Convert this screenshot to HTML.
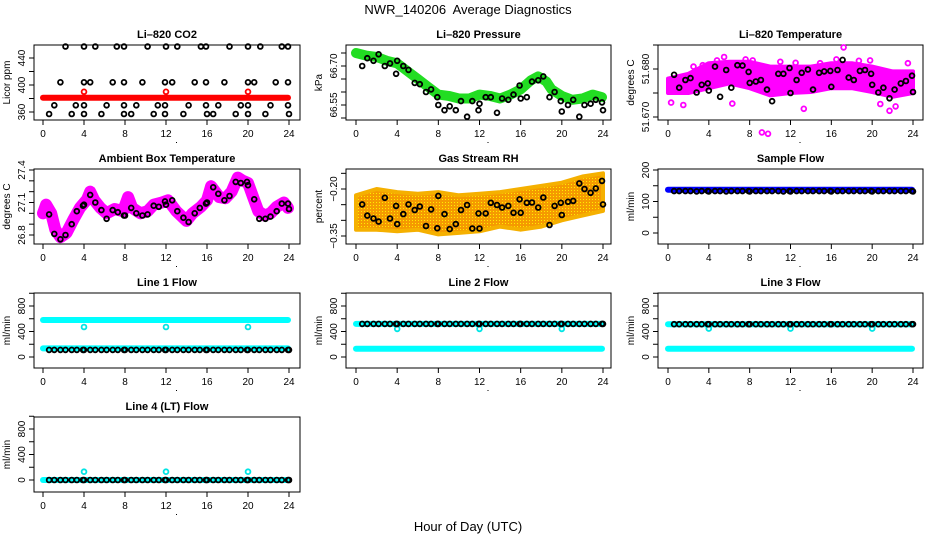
<!DOCTYPE html>
<html><head><meta charset="utf-8">
<style>
html,body{margin:0;padding:0;background:#fff;}
svg{display:block;font-family:"Liberation Sans",Arial,sans-serif;}
</style></head>
<body>
<svg id="chart" width="936" height="540" viewBox="0 0 936 540" xmlns="http://www.w3.org/2000/svg">
<defs>
<pattern id="orangeDots" width="3" height="3" patternUnits="userSpaceOnUse"><rect width="3" height="3" fill="#f59a00"/><rect x="1" y="1" width="1" height="1" fill="#ffee00"/></pattern>
</defs>
<text x="468" y="14" font-size="13" text-anchor="middle">NWR_140206&#160; Average Diagnostics</text>
<text x="468" y="531" font-size="13" text-anchor="middle">Hour of Day (UTC)</text>
</svg>
<script>
// ---------- data ----------
const hourTicks = [0,4,8,12,16,20,24];
const T = [0.6,1.1,1.7,2.2,2.8,3.3,3.9,4.0,4.6,5.1,5.7,6.2,6.8,7.3,7.9,8.0,8.6,9.1,9.7,10.2,10.8,11.3,11.9,12.0,12.6,13.1,13.7,14.2,14.8,15.3,15.9,16.0,16.6,17.1,17.7,18.2,18.8,19.3,19.9,20.0,20.6,21.1,21.7,22.2,22.8,23.3,23.9,24.0];
const co2Times = [2.2,4.0,5.1,7.2,7.9,10.2,12.0,13.1,15.4,15.9,18.2,20.0,21.2,23.3,23.9, 1.7,4.0,4.6,6.8,7.9,9.7,11.9,12.6,14.8,15.9,17.7,20.0,20.6,22.7,23.9, 1.1,3.2,4.0,6.2,7.9,9.1,11.2,11.9,14.2,15.9,17.1,19.3,20.0,22.2,23.9, 0.6,2.8,4.0,5.7,7.9,8.6,10.8,11.9,13.7,16.0,16.6,18.8,20.0,21.7,24.0];
const co2Vals = [457,457,457,457,457,457,457,457,457,457,457,457,457,457,457, 404,404,404,404,404,404,404,404,404,404,404,404,404,404,404, 370,370,370,370,370,370,370,370,370,370,370,370,370,370,370, 357,357,357,357,357,357,357,357,357,357,357,357,357,357,357];
const co2RefLevel = 381;
const calHours = [4,12,20];
const co2CalVals = [390,390,390];
const pressVals = [66.70,66.73,66.72,66.745,66.70,66.71,66.67,66.72,66.70,66.685,66.635,66.63,66.60,66.61,66.58,66.55,66.53,66.545,66.53,66.565,66.505,66.565,66.53,66.555,66.58,66.58,66.52,66.575,66.57,66.59,66.625,66.575,66.58,66.64,66.645,66.66,66.58,66.60,66.565,66.525,66.55,66.57,66.505,66.55,66.555,66.57,66.56,66.53];
const pressBandHours = [0,1,2,3,4,5,6,7,8,9,10,11,12,13,14,15,16,17,17.7,18.5,19,20,21,22,23,23.9];
const pressBandVals = [66.75,66.74,66.735,66.72,66.71,66.68,66.65,66.62,66.59,66.585,66.575,66.575,66.59,66.585,66.575,66.59,66.61,66.645,66.66,66.64,66.61,66.585,66.57,66.575,66.59,66.58];
const licorTVals = [51.6788,51.6761,51.6777,51.6781,51.6751,51.6767,51.6770,51.6755,51.6805,51.6742,51.6798,51.6761,51.6808,51.6807,51.6794,51.6771,51.6774,51.6777,51.6757,51.6733,51.6790,51.6790,51.6802,51.6750,51.6777,51.6792,51.6799,51.6757,51.6792,51.6795,51.6796,51.6763,51.6798,51.6819,51.6782,51.6777,51.6796,51.6798,51.6790,51.6767,51.6751,51.6761,51.6739,51.6757,51.6770,51.6775,51.6786,51.6752];
const licorBandHours = [0,2,4,6,8,10,12,14,16,18,20,22,24];
const licorBandLow = [51.6750,51.6750,51.6760,51.6770,51.6760,51.6745,51.6750,51.6752,51.6760,51.6760,51.6752,51.6742,51.6750];
const licorBandHigh = [51.6780,51.6790,51.6812,51.6815,51.6815,51.6805,51.6805,51.6805,51.6812,51.6812,51.6805,51.6795,51.6795];
const licorOutHours = [0.3,1.5,3.4,4.8,6.3,7.6,9.2,9.8,11.0,13.3,14.9,17.2,18.7,19.8,20.8,21.7,22.3,23.5,2.5,5.5,8.3,12.5,16.5];
const licorOutVals = [51.6730,51.6725,51.6808,51.6818,51.6728,51.6820,51.6668,51.6665,51.6815,51.6717,51.6812,51.6845,51.6817,51.6818,51.6727,51.6713,51.6722,51.6812,51.6805,51.6825,51.6818,51.6813,51.6820];
const ambVals = [26.99,26.81,26.76,26.80,26.90,27.02,27.07,27.08,27.17,27.10,27.03,26.95,27.03,27.01,26.98,26.98,27.05,27.00,26.98,26.99,27.07,27.06,27.11,27.08,27.12,27.02,26.96,26.92,27.00,27.05,27.09,27.10,27.24,27.18,27.12,27.16,27.29,27.28,27.29,27.26,27.13,26.95,26.95,26.97,27.02,27.09,27.09,27.04];
const ambBandHours = [0,0.3,0.8,1.2,1.7,2.3,3,3.6,4.3,4.6,5,5.6,6.2,7,7.8,8.3,8.7,9.5,10.2,10.8,11.6,12.2,13,14,14.6,15.4,16,16.4,17.2,17.8,18.4,19,19.5,20,20.5,21,21.6,22.2,22.8,23.5,23.9];
const ambBandVals = [27.0,27.08,27.0,26.85,26.78,26.82,26.95,27.05,27.13,27.2,27.12,27.05,27.0,27.04,27.02,27.15,27.05,27.0,27.02,27.08,27.1,27.12,27.02,26.93,27.0,27.06,27.12,27.25,27.15,27.14,27.2,27.33,27.3,27.28,27.15,27.02,26.98,27.0,27.06,27.1,27.05];
const rhVals = [-0.249,-0.285,-0.294,-0.304,-0.228,-0.294,-0.254,-0.312,-0.28,-0.249,-0.267,-0.256,-0.318,-0.265,-0.325,-0.222,-0.28,-0.328,-0.312,-0.267,-0.251,-0.326,-0.278,-0.326,-0.278,-0.244,-0.251,-0.259,-0.254,-0.276,-0.233,-0.276,-0.244,-0.243,-0.259,-0.227,-0.315,-0.254,-0.244,-0.283,-0.241,-0.238,-0.182,-0.2,-0.212,-0.198,-0.174,-0.249];
const rhBandHours = [0,2,4,6,8,10,12,14,16,18,20,22,24];
const rhBandLow = [-0.33,-0.33,-0.335,-0.33,-0.345,-0.34,-0.335,-0.32,-0.33,-0.32,-0.30,-0.285,-0.27];
const rhBandHigh = [-0.22,-0.20,-0.21,-0.215,-0.21,-0.22,-0.215,-0.21,-0.20,-0.19,-0.18,-0.16,-0.15];
const sampleVals = [133,133,133,133,132,133,133,132,133,133,132,133,133,133,133,132,133,133,133,133,133,132,133,132,133,133,133,133,133,133,133,132,133,133,133,133,133,133,133,132,133,133,133,133,133,133,133,132];
const sampleBand = 137;
const line1Vals = [112,112,112,112,112,112,112,112,112,112,112,112,112,112,112,112,112,112,112,112,112,112,112,112,112,112,112,112,112,112,112,112,112,112,112,112,112,112,112,112,112,112,112,112,112,112,112,112];
const line1Bands = [580,135];
const line1Cal = [470,470,470];
const line2Vals = [520,520,520,520,520,520,520,520,520,520,520,520,520,520,520,520,520,520,520,520,520,520,520,520,520,520,520,520,520,520,520,520,520,520,520,520,520,520,520,520,520,520,520,520,520,520,520,520];
const line2Bands = [520,130];
const line2Cal = [440,440,440];
const line3Vals = [515,515,515,515,515,515,515,515,515,515,515,515,515,515,515,515,515,515,515,515,515,515,515,515,515,515,515,515,515,515,515,515,515,515,515,515,515,515,515,515,515,515,515,515,515,515,515,515];
const line3Bands = [515,130];
const line3Cal = [445,445,445];
const line4Vals = [0,0,0,0,0,0,0,0,0,0,0,0,0,0,0,0,0,0,0,0,0,0,0,0,0,0,0,0,0,0,0,0,0,0,0,0,0,0,0,0,0,0,0,0,0,0,0,0];
const line4Cal = [130,130,130];

// ---------- drawing ----------
const NS = 'http://www.w3.org/2000/svg';
const svg = document.getElementById('chart');
function mk(tag, attrs, parent){
  const e = document.createElementNS(NS, tag);
  for (const k in attrs) e.setAttribute(k, attrs[k]);
  (parent||svg).appendChild(e);
  return e;
}
const cols = [{bx:34,bw:266,x0:43,x24:289},{bx:346,bw:265,x0:356,x24:603},{bx:658,bw:265,x0:668,x24:913}];
const rows = [45,169,293,417];
const BH = 75;

function panel(name, title, ylab, c, r, v1, o1, v2, o2, yticks, ylabels){
  const col = cols[c], top = rows[r];
  const g = mk('g', {});
  
  
  const xs = h => col.x0 + (h/24)*(col.x24-col.x0);
  const ys = v => top + o1 + (v-v1)/(v2-v1)*(o2-o1);
  const box = mk('rect', {x:col.bx, y:top, width:col.bw, height:BH, fill:'none', stroke:'#000', 'stroke-width':1}, g);
  
  
  const t = mk('text', {x:col.bx+col.bw/2, y:top-7, 'font-size':11, 'font-weight':'bold', 'text-anchor':'middle'}, g);
  t.textContent = title;
  
  
  const yl = mk('text', {x:0, y:0, 'font-size':10, 'text-anchor':'middle', transform:`translate(${col.bx-24},${top+BH/2}) rotate(-90)`}, g);
  yl.textContent = ylab;
  
  
  const xa = mk('g', {}, g);
  
  
  const by = top+BH;
  mk('line', {x1:xs(0), x2:xs(24), y1:by, y2:by, stroke:'#000'}, xa);
  hourTicks.forEach(h=>{
    mk('line', {x1:xs(h), x2:xs(h), y1:by, y2:by+5, stroke:'#000'}, xa);
    const l = mk('text', {x:xs(h), y:by+17, 'font-size':10, 'text-anchor':'middle'}, xa);
    l.textContent = h;
  });
  mk('rect', {x:col.bx+col.bw/2+9, y:by+22, width:1, height:1, fill:'#000'}, xa);
  const ya = mk('g', {}, g);
  
  
  mk('line', {x1:col.bx, x2:col.bx, y1:ys(yticks[0]), y2:ys(yticks[yticks.length-1]), stroke:'#000'}, ya);
  yticks.forEach(v=>{
    mk('line', {x1:col.bx-5, x2:col.bx, y1:ys(v), y2:ys(v), stroke:'#000'}, ya);
  });
  ylabels.forEach(lb=>{
    const l = mk('text', {x:0, y:0, 'font-size':10, 'text-anchor':'middle', transform:`translate(${col.bx-9},${ys(lb[0])}) rotate(-90)`}, ya);
    l.textContent = lb[1];
  });
  return {g, xs, ys};
}
function band(p, hours, vals, color, w, nm){
  const pts = hours.map((h,i)=>p.xs(h).toFixed(1)+','+p.ys(vals[i]).toFixed(1)).join(' ');
  const e = mk('polyline', {points:pts, fill:'none', stroke:color, 'stroke-width':w, 'stroke-linejoin':'round', 'stroke-linecap':'round'}, p.g);
  
  
}
function area(p, hours, lo, hi, fill, strokeCol, nm){
  const a = hours.map((h,i)=>p.xs(h).toFixed(1)+','+p.ys(hi[i]).toFixed(1));
  const b = hours.map((h,i)=>p.xs(h).toFixed(1)+','+p.ys(lo[i]).toFixed(1)).reverse();
  const e = mk('polygon', {points:a.concat(b).join(' '), fill:fill, stroke:strokeCol, 'stroke-width':4, 'stroke-linejoin':'round'}, p.g);
  
  
}
function pts(p, hours, vals, color, nm){
  const gg = mk('g', {}, p.g);
  
  
  hours.forEach((h,i)=>{
    const c = mk('circle', {cx:p.xs(h).toFixed(1), cy:p.ys(vals[i]).toFixed(1), r:2.4, fill:'none', stroke:color, 'stroke-width':1.8}, gg);
    
    
  });
}
function hline(p, v, color, w, nm){
  band(p, [0,23.9], [v,v], color, w, nm);
}

let p = panel('co2-panel','Li\u2013820 CO2','Licor ppm',0,0,360,67,440,13,[360,380,400,420,440],[[360,'360'],[400,'400'],[440,'440']]);
hline(p, co2RefLevel, '#ff0000', 6, 'co2-red-band');
pts(p, calHours, co2CalVals, '#ff0000', 'co2-cal-points');
pts(p, co2Times, co2Vals, '#000', 'co2-black-points');

p = panel('pressure-panel','Li\u2013820 Pressure','kPa',1,0,66.75,8,66.50,73,[66.50,66.55,66.60,66.65,66.70,66.75],[[66.55,'66.55'],[66.70,'66.70']]);
band(p, pressBandHours, pressBandVals, '#22dd22', 10, 'pressure-green-band');
pts(p, T, pressVals, '#000', 'pressure-black-points');

p = panel('licor-temp-panel','Li\u2013820 Temperature','degrees C',2,0,51.680,24,51.670,72,[51.670,51.675,51.680,51.685],[[51.670,'51.670'],[51.680,'51.680']]);
area(p, licorBandHours, licorBandLow, licorBandHigh, '#ff00ff', '#ff00ff', 'licor-temp-magenta-band');
pts(p, licorOutHours, licorOutVals, '#ff00ff', 'licor-temp-magenta-points');
pts(p, T, licorTVals, '#000', 'licor-temp-black-points');

p = panel('ambient-panel','Ambient Box Temperature','degrees C',0,1,27.4,1,26.8,66,[26.8,26.9,27.0,27.1,27.2,27.3,27.4],[[26.8,'26.8'],[27.1,'27.1'],[27.4,'27.4']]);
band(p, ambBandHours, ambBandVals, '#ff00ff', 12, 'ambient-magenta-band');
pts(p, T, ambVals, '#000', 'ambient-black-points');

p = panel('rh-panel','Gas Stream RH','percent',1,1,-0.20,20,-0.35,67,[-0.35,-0.30,-0.25,-0.20,-0.15],[[-0.35,'\u22120.35'],[-0.20,'\u22120.20']]);
area(p, rhBandHours, rhBandLow, rhBandHigh, 'url(#orangeDots)', '#f5b000', 'rh-orange-band');
pts(p, T, rhVals, '#000', 'rh-black-points');

p = panel('sample-flow-panel','Sample Flow','ml/min',2,1,0,64,200,1,[0,50,100,150,200],[[0,'0'],[100,'100'],[200,'200']]);
hline(p, sampleBand, '#0000ff', 6, 'sample-flow-blue-band');
pts(p, T, sampleVals, '#000', 'sample-flow-black-points');

const flowTicks = [0,200,400,600,800,1000];
const flowLabels = [[0,'0'],[400,'400'],[800,'800']];
p = panel('line1-flow-panel','Line 1 Flow','ml/min',0,2,0,64,800,13,flowTicks,flowLabels);
hline(p, line1Bands[0], '#00ffff', 6, 'line1-cyan-band-high');
hline(p, line1Bands[1], '#00ffff', 6, 'line1-cyan-band-low');
pts(p, calHours, line1Cal, '#00e5e5', 'line1-cal-points');
pts(p, T, line1Vals, '#000', 'line1-black-points');
p = panel('line2-flow-panel','Line 2 Flow','ml/min',1,2,0,64,800,13,flowTicks,flowLabels);
hline(p, line2Bands[0], '#00ffff', 6, 'line2-cyan-band-high');
hline(p, line2Bands[1], '#00ffff', 6, 'line2-cyan-band-low');
pts(p, calHours, line2Cal, '#00e5e5', 'line2-cal-points');
pts(p, T, line2Vals, '#000', 'line2-black-points');
p = panel('line3-flow-panel','Line 3 Flow','ml/min',2,2,0,64,800,13,flowTicks,flowLabels);
hline(p, line3Bands[0], '#00ffff', 6, 'line3-cyan-band-high');
hline(p, line3Bands[1], '#00ffff', 6, 'line3-cyan-band-low');
pts(p, calHours, line3Cal, '#00e5e5', 'line3-cal-points');
pts(p, T, line3Vals, '#000', 'line3-black-points');
p = panel('line4-flow-panel','Line 4 (LT) Flow','ml/min',0,3,0,63,800,12,flowTicks,flowLabels);
hline(p, 0, '#00ffff', 6, 'line4-cyan-band');
pts(p, calHours, line4Cal, '#00e5e5', 'line4-cal-points');
pts(p, T, line4Vals, '#000', 'line4-black-points');
</script>
</body></html>
